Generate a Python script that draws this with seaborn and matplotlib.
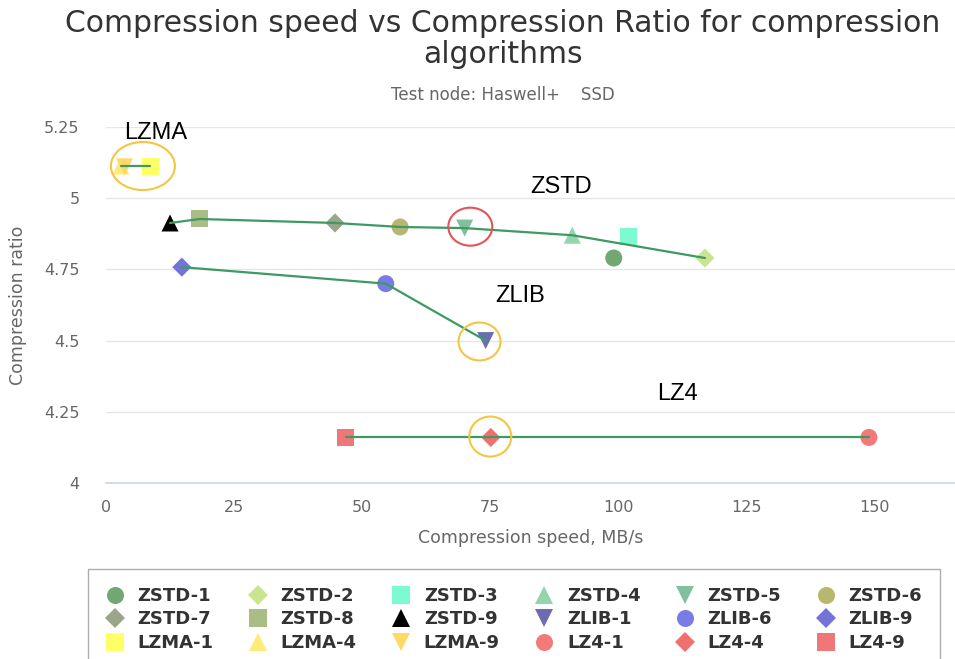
import matplotlib
matplotlib.use("Agg")
import matplotlib.pyplot as plt
from matplotlib.patches import Ellipse
import seaborn as sns
import pandas as pd

labels = ["ZSTD-1", "ZSTD-2", "ZSTD-3", "ZSTD-4", "ZSTD-5", "ZSTD-6",
          "ZSTD-7", "ZSTD-8", "ZSTD-9", "ZLIB-1", "ZLIB-6", "ZLIB-9",
          "LZMA-1", "LZMA-4", "LZMA-9", "LZ4-1", "LZ4-4", "LZ4-9"]
speed = [99.1, 116.9, 102.0, 91.0, 70.0, 57.4,
         44.7, 18.3, 12.5, 74.1, 54.6, 14.8,
         8.6, 2.9, 3.6, 148.9, 75.1, 46.8]
ratio = [4.79, 4.79, 4.864, 4.87, 4.895, 4.899,
         4.913, 4.927, 4.913, 4.50, 4.70, 4.758,
         5.113, 5.113, 5.11, 4.16, 4.16, 4.16]
colors = ["#6fa971", "#c9e58f", "#7dfbd0", "#93d5ad", "#80c09e", "#b7b76f",
          "#9aa58a", "#a9bd85", "#000000", "#6c6cb0", "#7b7be8", "#7474d8",
          "#ffff66", "#ffec78", "#ffd966", "#f47a7a", "#f07070", "#f07777"]
markers = ["o", "D", "s", "^", "v", "o",
           "D", "s", "^", "v", "o", "D",
           "s", "^", "v", "o", "D", "s"]

# trend lines (connected levels per family)
line_family = ["ZSTD"] * 7 + ["ZLIB"] * 3 + ["LZMA"] * 2 + ["LZ4"] * 3
line_members = ["ZSTD-9", "ZSTD-8", "ZSTD-7", "ZSTD-6", "ZSTD-5", "ZSTD-4", "ZSTD-2",
                "ZLIB-9", "ZLIB-6", "ZLIB-1",
                "LZMA-4", "LZMA-1",
                "LZ4-9", "LZ4-4", "LZ4-1"]

family_names = ["LZMA", "ZSTD", "ZLIB", "LZ4"]
family_x = [9.6, 88.8, 80.8, 111.6]
family_y = [5.229, 5.039, 4.657, 4.313]

df = pd.DataFrame({"label": labels, "speed": speed, "ratio": ratio})
idx = {l: i for i, l in enumerate(labels)}
ldf = pd.DataFrame({"family": line_family,
                    "speed": [speed[idx[m]] for m in line_members],
                    "ratio": [ratio[idx[m]] for m in line_members]})

sns.set_theme(style="white")
plt.rcParams["font.family"] = ["DejaVu Sans"]

W, H = 955, 659
fig = plt.figure(figsize=(W / 100, H / 100), dpi=100)
ax = fig.add_axes([106 / W, 1 - 483 / H, (955 - 106) / W, (483 - 127) / H])

sns.lineplot(data=ldf, x="speed", y="ratio", units="family", estimator=None,
             sort=False, color="#3d9a62", lw=1.6, ax=ax, legend=False, zorder=3)

size_map = {l: (95 if m == "D" else 150) for l, m in zip(labels, markers)}
sns.scatterplot(data=df, x="speed", y="ratio", hue="label", style="label", size="label",
                palette=dict(zip(labels, colors)), markers=dict(zip(labels, markers)),
                sizes=size_map, linewidth=0, ax=ax, zorder=2, legend=True)

ax.set_xlim(0, 165.7)
ax.set_ylim(4, 5.25)
ax.set_xticks([0, 25, 50, 75, 100, 125, 150])
ax.set_yticks([4, 4.25, 4.5, 4.75, 5, 5.25])
ax.set_yticklabels(["4", "4.25", "4.5", "4.75", "5", "5.25"])
ax.grid(axis="y", color="#e6e6e6", lw=1)
ax.grid(axis="x", visible=False)
for s in ["top", "right", "left"]:
    ax.spines[s].set_visible(False)
ax.spines["bottom"].set_color("#ccd6eb")
ax.tick_params(axis="x", length=8, color="#ccd6eb", colors="#666666", labelsize=11.5, pad=4)
ax.tick_params(axis="y", length=0, colors="#666666", labelsize=11.5, pad=19)
ax.set_xlabel("Compression speed, MB/s", fontsize=12.5, color="#666666", labelpad=10)
ax.set_ylabel("Compression ratio", fontsize=12.5, color="#666666", labelpad=12)

for n, x, y in zip(family_names, family_x, family_y):
    ax.text(x, y, n, fontsize=17, color="black", ha="center", va="center",
            family="Liberation Sans", zorder=5)

# highlight ellipses (pixel sizes converted to data units)
px_x = 165.7 / (955 - 106)
px_y = 1.25 / (483 - 127)
for (cx, cy, w, h, c) in [(7.2, 5.113, 64, 48, "#f5c542"),
                          (71.1, 4.90, 44, 38, "#e05555"),
                          (72.9, 4.497, 42, 38, "#f5c542"),
                          (75.0, 4.163, 42, 40, "#f5c542")]:
    ax.add_patch(Ellipse((cx, cy), w * px_x, h * px_y, fill=False, ec=c, lw=1.5, zorder=6))

handles, labs = ax.get_legend_handles_labels()
ax.get_legend().remove()
hmap = dict(zip(labs, handles))
order = [labels[r * 6 + c] for c in range(6) for r in range(3)]
leg = fig.legend([hmap[l] for l in order], order, ncol=6, loc="upper left",
                 bbox_to_anchor=(88 / W, 1 - 569 / H - 0.4, (940 - 88) / W, 0.4),
                 mode="expand", frameon=True, fancybox=False, edgecolor="#999999",
                 prop={"weight": "bold", "size": 13}, handletextpad=0.75, handlelength=1.0,
                 labelspacing=0.3, borderpad=1.0, borderaxespad=0)
leg.get_frame().set_linewidth(1)
for t in leg.get_texts():
    t.set_color("#333333")

fig.text(503 / W, 1 - 39 / H, "Compression speed vs Compression Ratio for compression\nalgorithms",
         ha="center", va="center", fontsize=21.5, color="#333333", linespacing=1.05)
fig.text(503 / W, 1 - 95 / H, "Test node: Haswell+    SSD", ha="center", va="center",
         fontsize=12, color="#666666")

fig.savefig("out.png", dpi=100)
